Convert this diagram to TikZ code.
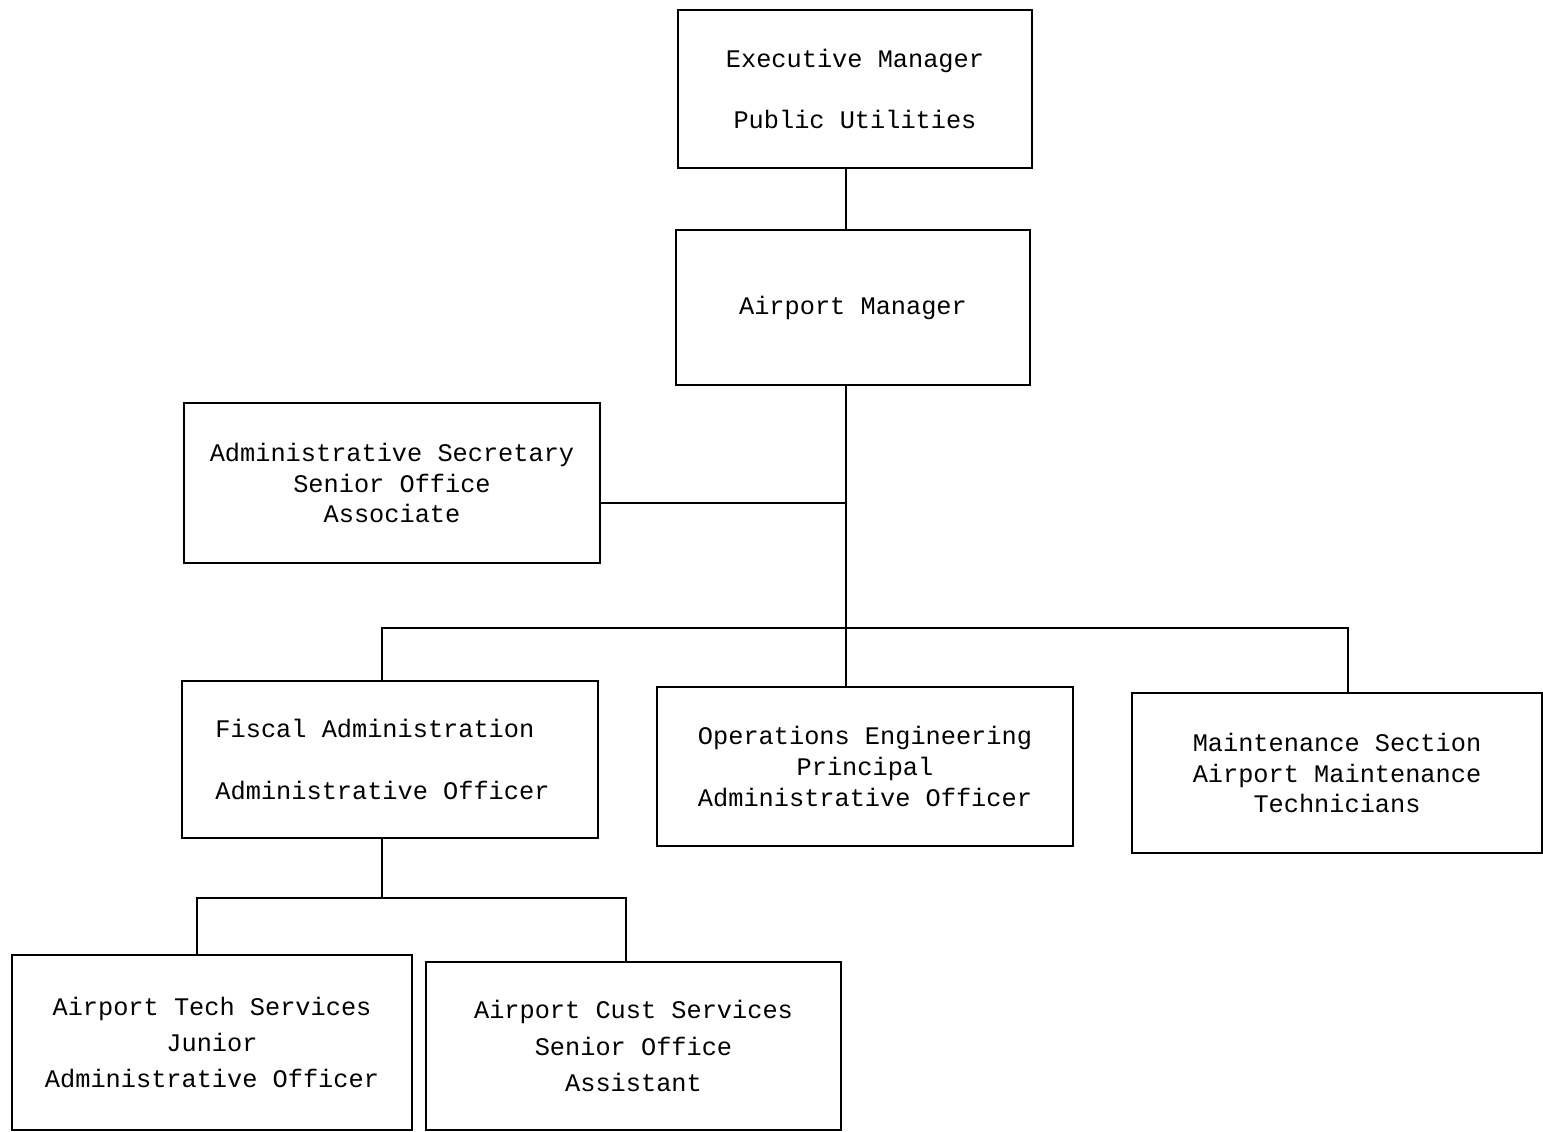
\documentclass[tikz,border=0pt]{standalone}
\usepackage{fontspec}
\newfontfamily\boxfont{Liberation Mono}
\usetikzlibrary{calc}
\begin{document}
\begin{tikzpicture}[x=0.02cm,y=-0.02cm,
  orgbox/.style={draw, line width=0.8pt, inner sep=0pt, align=center,
    font=\boxfont\fontsize{14.4}{17.6}\selectfont},
  link/.style={line width=0.8pt}]
\useasboundingbox (0,0) rectangle (1543,1132);
\node[orgbox, minimum width=7.08cm, minimum height=3.16cm] (exec) at (855,89)
  {Executive Manager\\[17.6pt] Public Utilities};
\node[orgbox, minimum width=7.08cm, minimum height=3.10cm] (am) at (853,307.5)
  {Airport Manager};
\node[orgbox, minimum width=8.32cm, minimum height=3.20cm] (sec) at (392,483)
  {Administrative Secretary\\Senior Office\\Associate};
\node[orgbox, align=left, minimum width=8.32cm, minimum height=3.14cm] (fis) at (390,759.5)
  {Fiscal Administration\\[17.6pt]Administrative Officer\hspace*{0.3cm}};
\node[orgbox, minimum width=8.32cm, minimum height=3.18cm] (ops) at (865,766.5)
  {Operations Engineering\\Principal\\Administrative Officer};
\node[orgbox, minimum width=8.20cm, minimum height=3.20cm] (mnt) at (1337,773)
  {Maintenance Section\\Airport Maintenance\\Technicians};
\node[orgbox, minimum width=8.00cm, minimum height=3.50cm] (tech) at (212,1042.5)
  {Airport Tech Services\\[3pt]Junior\\[3pt]Administrative Officer};
\node[orgbox, minimum width=8.30cm, minimum height=3.36cm] (cust) at (633.5,1046)
  {Airport Cust Services\\[3pt]Senior Office\\[3pt]Assistant};
\coordinate (vx) at (846,0);
\coordinate (busm) at (846,628);
\coordinate (b2) at (382,898);
\draw[link] (exec.south -| vx) -- (am.north -| vx);
\draw[link] (am.south -| vx) -- (ops.north -| vx);
\draw[link] ([yshift=-0.4cm]sec.east) -- ([yshift=-0.4cm]sec.east -| vx);
\draw[link] ([xshift=-0.16cm]fis.north) |- (busm) -| ([xshift=0.22cm]mnt.north);
\draw[link] (fis.south -| b2) -- (b2);
\draw[link] ([xshift=-0.3cm]tech.north) |- (b2) -| ([xshift=-0.15cm]cust.north);
\end{tikzpicture}
\end{document}
